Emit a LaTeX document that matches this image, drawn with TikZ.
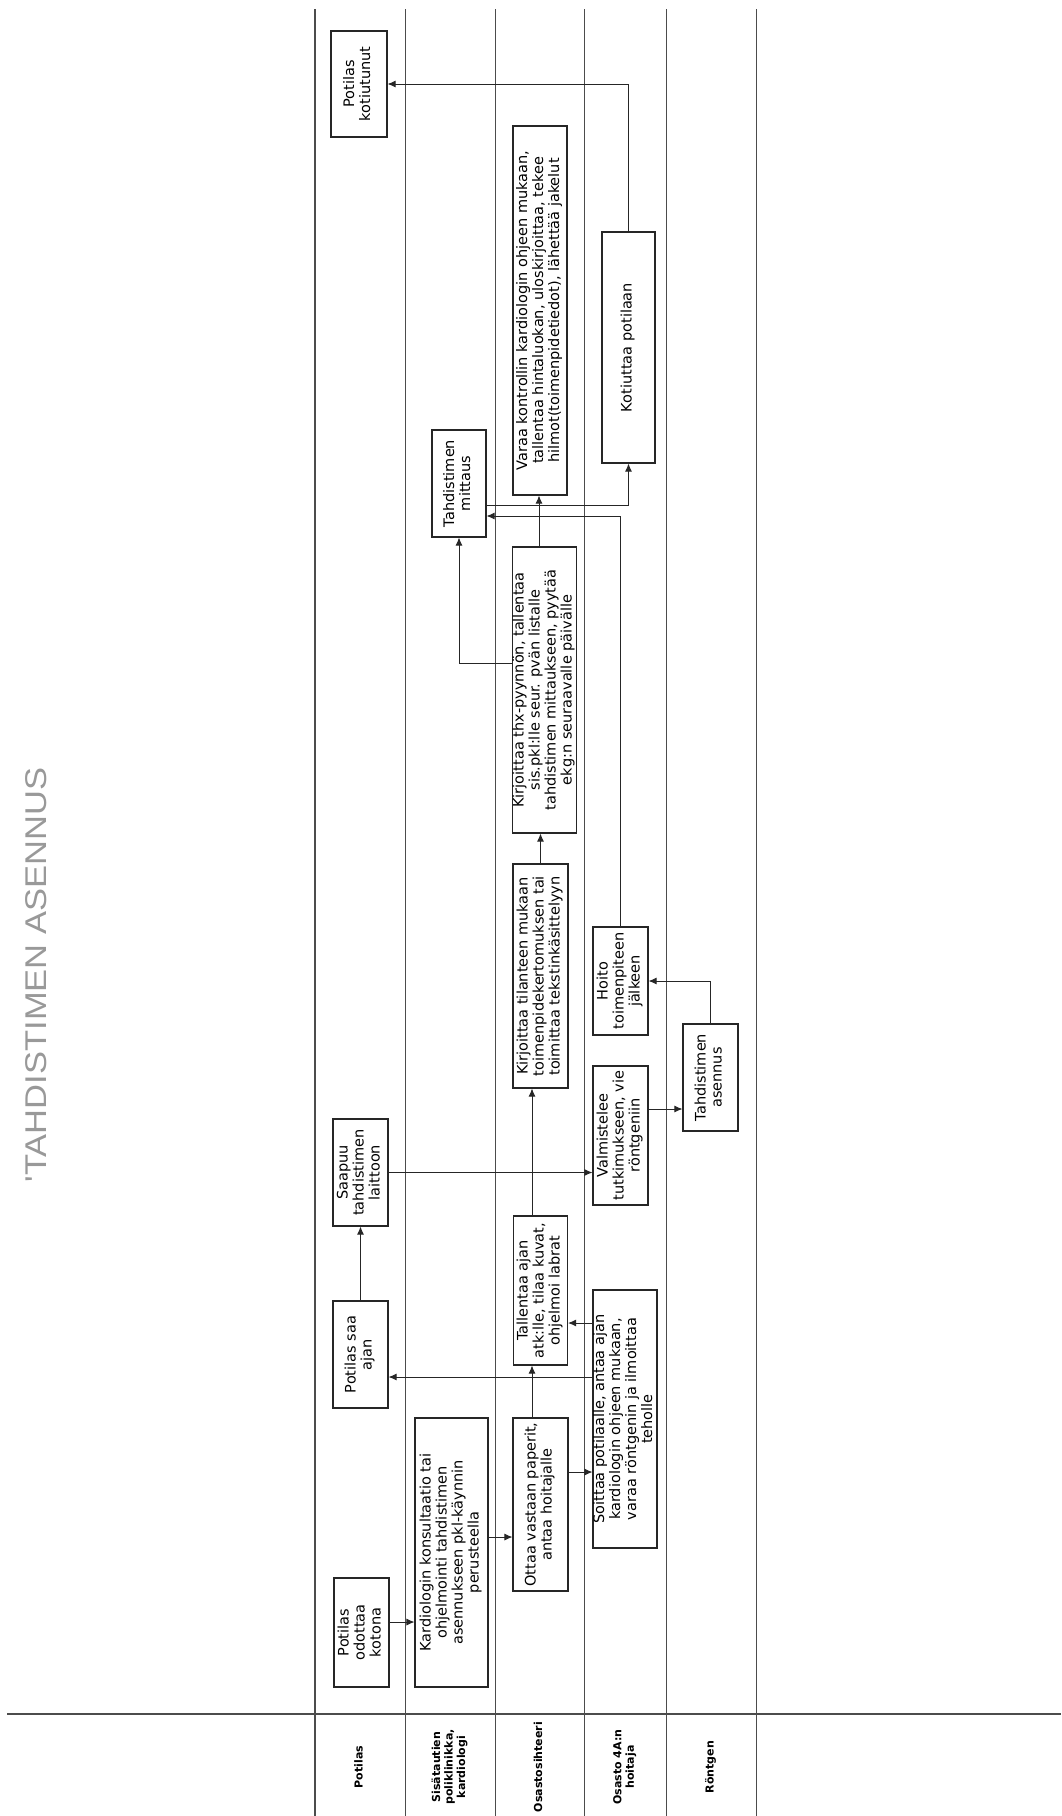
\documentclass[tikz,border=0pt]{standalone}
\usepackage{fontspec}
\setmainfont{DejaVu Sans}
\newfontfamily\handfont{Liberation Sans}
\usetikzlibrary{arrows.meta}
\newcommand{\rt}[1]{\rotatebox{90}{\begin{tabular}{@{}c@{}}#1\end{tabular}}}
\begin{document}
\begin{tikzpicture}[x=1pt,y=-1pt,
  box/.style={draw=black!85, line width=1.1pt, inner sep=0pt, font=\fontsize{14.5}{16}\selectfont},
  arr/.style={draw=black!85, line width=0.9pt, -{Latex[length=8pt,width=7pt]}},
  lane/.style={draw=black!70, line width=1pt},
  lanelabel/.style={font=\bfseries\fontsize{11}{12.5}\selectfont, inner sep=0pt}]
\useasboundingbox (0,0) rectangle (1061,1816);
\fill[white] (0,0) rectangle (1061,1816);

% lanes
\draw[lane, line width=1.3pt] (315,9) -- (315,1816);
\foreach \lx in {405,495,584,666,756} \draw[lane] (\lx,9) -- (\lx,1816);
\draw[lane, line width=1.3pt] (7,1714) -- (1061,1714);

% lane labels
\node[lanelabel] (l1) at (360,1767) {\rt{Potilas}};
\node[lanelabel] (l2) at (450,1767) {\rt{Sisätautien\\poliklinikka,\\kardiologi}};
\node[lanelabel] (l3) at (539.5,1767) {\rt{Osastosihteeri}};
\node[lanelabel] (l4) at (625,1767) {\rt{Osasto 4A:n\\hoitaja}};
\node[lanelabel] (l5) at (711,1767) {\rt{Röntgen}};

% handwritten title
\node[text=black!40, font=\handfont\fontsize{30}{30}\selectfont, inner sep=0pt] (hw) at (36,975)
  {\rotatebox{90}{\scalebox{1.15}[1]{'TAHDISTIMEN ASENNUS}}};

% boxes
\node[box, minimum width=55pt, minimum height=109pt] (odottaa) at (361.5,1632.5) {\rt{Potilas\\odottaa\\kotona}};
\node[box, minimum width=73pt, minimum height=269pt] (kardio) at (451.5,1552.5) {\rt{Kardiologin konsultaatio tai\\ohjelmointi tahdistimen\\asennukseen pkl-käynnin\\perusteella}};
\node[box, minimum width=55pt, minimum height=173pt] (ottaa) at (540.5,1504.5) {\rt{Ottaa vastaan paperit,\\antaa hoitajalle}};
\node[box, minimum width=64pt, minimum height=258pt] (soittaa) at (625,1419) {\rt{Soittaa potilaalle, antaa ajan\\kardiologin ohjeen mukaan,\\varaa röntgenin ja ilmoittaa\\teholle}};
\node[box, minimum width=55pt, minimum height=107pt] (saa) at (360.5,1354.5) {\rt{Potilas saa\\ajan}};
\node[box, minimum width=54pt, minimum height=149pt] (tallentaa) at (540.5,1290.5) {\rt{Tallentaa ajan\\atk:lle, tilaa kuvat,\\ohjelmoi labrat}};
\node[box, minimum width=55pt, minimum height=107pt] (saapuu) at (360.5,1172.5) {\rt{Saapuu\\tahdistimen\\laittoon}};
\node[box, minimum width=55pt, minimum height=139pt] (valm) at (620.5,1135.5) {\rt{Valmistelee\\tutkimukseen, vie\\röntgeniin}};
\node[box, minimum width=55pt, minimum height=224pt] (kirjtil) at (540.5,976) {\rt{Kirjoittaa tilanteen mukaan\\toimenpidekertomuksen tai\\toimittaa tekstinkäsittelyyn}};
\node[box, minimum width=55pt, minimum height=108pt] (hoito) at (620.5,981) {\rt{Hoito\\toimenpiteen\\jälkeen}};
\node[box, minimum width=55pt, minimum height=107pt] (asennus) at (710.5,1077.5) {\rt{Tahdistimen\\asennus}};
\node[box, minimum width=63pt, minimum height=286pt] (thx) at (544.5,690) {\rt{Kirjoittaa thx-pyynnön, tallentaa\\sis.pkl:lle seur. pvän listalle\\tahdistimen mittaukseen, pyytää\\ekg:n seuraavalle päivälle}};
\node[box, minimum width=54pt, minimum height=107pt] (mittaus) at (459,483.5) {\rt{Tahdistimen\\mittaus}};
\node[box, minimum width=54pt, minimum height=369pt] (varaa) at (540,310.5) {\rt{Varaa kontrollin kardiologin ohjeen mukaan,\\tallentaa hintaluokan, uloskirjoittaa, tekee\\hilmot(toimenpidetiedot), lähettää jakelut}};
\node[box, minimum width=53pt, minimum height=231pt] (kotiuttaa) at (628.5,347.5) {\rt{Kotiuttaa potilaan}};
\node[box, minimum width=56pt, minimum height=106pt] (kotiutunut) at (359,84) {\rt{Potilas\\kotiutunut}};

% connectors
\coordinate (c1) at ([yshift=10.5pt]odottaa.east);
\draw[arr] (c1) -- (c1 -| kardio.west);
\coordinate (c2) at ([yshift=15.5pt]kardio.east);
\draw[arr] (c2) -- (c2 -| ottaa.west);
\coordinate (c3) at ([yshift=32.5pt]ottaa.east);
\draw[arr] (c3) -- (c3 -| soittaa.west);
\coordinate (c4) at ([xshift=-8.5pt]ottaa.north);
\draw[arr] (c4) -- (c4 |- tallentaa.south);
\coordinate (c5) at ([yshift=42pt]soittaa.west);
\draw[arr] (c5) -- (c5 -| saa.east);
\coordinate (c6) at ([yshift=96pt]soittaa.west);
\draw[arr] (c6) -- (c6 -| tallentaa.east);
\draw[arr] (saa.north) -- (saapuu.south);
\draw[arr] (saapuu.east) -- (saapuu.east -| valm.west);
\coordinate (c9) at ([xshift=-8.5pt]tallentaa.north);
\draw[arr] (c9) -- (c9 |- kirjtil.south);
\coordinate (c10) at ([yshift=26.5pt]valm.east);
\draw[arr] (c10) -- (c10 -| asennus.west);
\draw[arr] (asennus.north) |- (hoito.east);
\draw[arr] (kirjtil.north) -- (kirjtil.north |- thx.south);
\coordinate (c13) at ([yshift=27pt]thx.west);
\draw[arr] (c13) -| (mittaus.south);
\coordinate (c14) at ([xshift=-5.5pt]thx.north);
\draw[arr] (c14) -- (c14 |- varaa.south);
\coordinate (c15) at ([yshift=-32.5pt]mittaus.east);
\draw[arr] (hoito.north) |- (c15);
\coordinate (c16) at ([yshift=-21.5pt]mittaus.east);
\draw[arr] (c16) -| (kotiuttaa.south);
\draw[arr] (kotiuttaa.north) |- (kotiutunut.east);
\end{tikzpicture}
\end{document}
